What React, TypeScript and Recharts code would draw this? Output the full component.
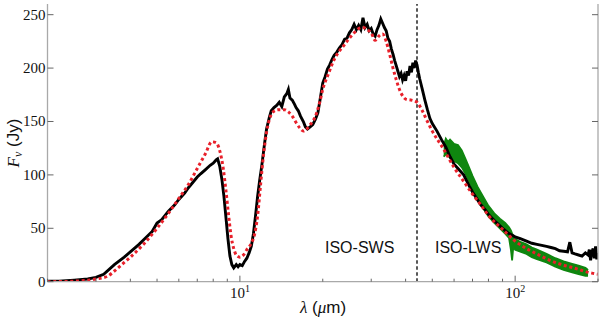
import React from 'react';
import { ComposedChart, Line, Area, XAxis, YAxis, ReferenceLine } from 'recharts';

// ISO-SWS + ISO-LWS observed spectrum (black): [wavelength µm, flux Jy]
const observed: [number, number][] = [
  [2.0, 0.5], [2.2, 0.5], [2.5, 1.5], [2.8, 2.5], [3.0, 4], [3.2, 7], [3.5, 16], [3.8, 23],
  [4.0, 28], [4.3, 35], [4.5, 40], [4.8, 47], [5.0, 55], [5.2, 58], [5.5, 66], [5.8, 72],
  [6.0, 77], [6.3, 83], [6.5, 88], [6.8, 94], [7.0, 98], [7.2, 101], [7.5, 105], [7.8, 109],
  [8.0, 111], [8.2, 114], [8.3, 115], [8.45, 108], [8.6, 96], [8.75, 80], [8.9, 60], [9.05, 40],
  [9.2, 24], [9.35, 16], [9.5, 13], [9.7, 16], [9.85, 14], [10.0, 16], [10.2, 15], [10.4, 19],
  [10.6, 22], [10.8, 27], [11.0, 33], [11.2, 45], [11.4, 62], [11.6, 80], [11.8, 95], [12.0, 108],
  [12.3, 130], [12.5, 143], [12.8, 154], [13.0, 160], [13.3, 163], [13.6, 165], [13.9, 168],
  [14.2, 164], [14.5, 173], [14.8, 176], [15.0, 180], [15.2, 172], [15.5, 170], [15.8, 166],
  [16.0, 163], [16.3, 160], [16.6, 155], [17.0, 150], [17.3, 145], [17.6, 143], [18.0, 145],
  [18.4, 147], [18.8, 152], [19.2, 158], [19.6, 172], [20.0, 186], [20.4, 192], [20.8, 199],
  [21.2, 203], [21.6, 208], [22.0, 212], [22.5, 215], [23.0, 219], [23.5, 222], [24.0, 227],
  [24.5, 228], [25.0, 233], [25.5, 236], [26.0, 241], [26.5, 236], [27.0, 240], [27.5, 236],
  [28.0, 247], [28.5, 238], [29.0, 241], [29.5, 235], [30.0, 237], [30.5, 232], [31.0, 230],
  [31.5, 236], [32.0, 240], [32.5, 246], [33.0, 242], [33.5, 238], [34.0, 235], [34.5, 228],
  [35.0, 225], [35.5, 218], [36.0, 213], [36.5, 207], [37.0, 202], [37.5, 197], [38.0, 192],
  [38.5, 195], [39.0, 189], [39.5, 193], [40.0, 188], [40.5, 197], [41.0, 193], [41.5, 202],
  [42.0, 196], [42.5, 205], [43.0, 200], [43.5, 207], [44.0, 203], [44.5, 196], [45.0, 190],
  [46.0, 180], [47.0, 170], [48.0, 161], [49.0, 153], [50.0, 148], [52.0, 141], [54.0, 133],
  [56.0, 126], [58.0, 117], [60.0, 110], [62.0, 106], [65.0, 100], [68.0, 90], [70.0, 84],
  [72.0, 79], [75.0, 72], [78.0, 67], [80.0, 63], [85.0, 56], [90.0, 50], [95.0, 45],
  [100, 42], [105, 40], [110, 38], [115, 36], [120, 35], [125, 34], [130, 33], [135, 32],
  [140, 31], [145, 29], [150, 28.5], [155, 28], [158, 37], [161, 27], [165, 26], [170, 25],
  [175, 24], [180, 27], [184, 25], [186, 30], [188, 20], [190, 28], [192, 31], [194, 22],
  [196, 33], [198, 21], [199, 27],
];

// Model SED (red dotted): [wavelength µm, flux Jy]
const model: [number, number][] = [
  [2.0, 0], [2.5, 0.5], [3.0, 2.5], [3.3, 5], [3.5, 10], [3.8, 18], [4.0, 23], [4.5, 36],
  [5.0, 50], [5.5, 64], [6.0, 78], [6.5, 91], [7.0, 106], [7.5, 120], [7.9, 131], [8.2, 130],
  [8.5, 120], [8.7, 106], [8.9, 85], [9.1, 62], [9.3, 42], [9.5, 31], [9.7, 25], [10.0, 23],
  [10.3, 25], [10.6, 30], [11.0, 36], [11.3, 44], [11.6, 62], [11.9, 92], [12.2, 120],
  [12.5, 140], [12.8, 152], [13.2, 159], [13.8, 161], [14.5, 161], [15.0, 159], [15.5, 155],
  [16.0, 149], [16.5, 144], [17.0, 141], [17.5, 143], [18.0, 147], [18.5, 151], [19.0, 158],
  [19.5, 168], [20.0, 180], [21.0, 195], [22.0, 208], [23.0, 216], [24.0, 222], [25.0, 228],
  [26.0, 233], [27.0, 237], [28.0, 238], [29.0, 236], [30.0, 233], [31.0, 226], [32.0, 230],
  [33.0, 232], [34.0, 225], [35.0, 213], [36.0, 200], [37.0, 189], [38.0, 180], [39.0, 174],
  [40.0, 171], [42.0, 170], [44.0, 168], [46.0, 160], [48.0, 150], [50.0, 141], [55.0, 124],
  [60.0, 107], [65.0, 94], [70.0, 82], [75.0, 72], [80.0, 62], [90.0, 49], [100, 38],
  [110, 31], [120, 26], [130, 21.5], [140, 18], [150, 15.5], [160, 13.5], [170, 11.5],
  [180, 9.5], [190, 8], [200, 7],
];

// ISO-LWS band (green): [wavelength µm, low flux, high flux]
const lws: [number, number, number][] = [
  [55, 117, 127], [56, 119, 134], [57, 118, 131], [58, 116, 133], [60, 113, 129], [62, 111, 128],
  [64, 107, 123], [66, 101, 115], [68, 94, 107], [70, 87, 99], [73, 78, 89], [76, 70, 81],
  [80, 61, 71], [84, 55, 64], [88, 50, 59], [92, 45, 55], [95, 41, 51], [96.5, 30, 48],
  [97.5, 20, 45], [98.5, 33, 43], [100, 30, 40], [105, 28, 37], [110, 26, 35], [115, 23, 32],
  [120, 21, 30], [130, 18, 26], [140, 14, 22], [150, 11, 19], [160, 9, 17], [170, 7, 15],
  [180, 5.5, 13], [184, 5.5, 11],
];

const xDomain: [number, number] = [2, 200];
const yDomain: [number, number] = [0, 260];
const xTicks = [2, 3, 4, 5, 6, 7, 8, 9, 10, 20, 30, 40, 50, 60, 70, 80, 90, 100, 200];
const xMajor = [10, 100];
const yTicks = [0, 50, 100, 150, 200, 250];
const boundary = 44;
const regionLabels = ['ISO-SWS', 'ISO-LWS'];

const observedRows = observed.map(([x, y]) => ({ x, y }));
const modelRows = model.map(([x, y]) => ({ x, y }));
const lwsRows = lws.map(([x, lo, hi]) => ({ x, band: [lo, hi] }));

const AXIS = '#a9a9a9';
const TICK = '#666';
const SERIF = '"Liberation Serif", "DejaVu Serif", serif';
const SANS = '"Liberation Sans", Arial, sans-serif';

const BottomTick = (props: any) => {
  const { x, y, payload } = props;
  const v = payload.value;
  const major = xMajor.includes(v);
  return (
    <g>
      <line x1={x} x2={x} y1={y} y2={y - (major ? 6 : 3)} stroke={TICK} strokeWidth={1} />
      {major && (
        <text x={x} y={y + 16} textAnchor="middle" fontFamily={SERIF} fontSize={15} fill="#111">
          <tspan>10</tspan>
          <tspan dy={-6} fontSize={10}>{Math.round(Math.log10(v))}</tspan>
        </text>
      )}
    </g>
  );
};

const TopTick = (props: any) => {
  const { x, y, payload } = props;
  const major = xMajor.includes(payload.value);
  return <line x1={x} x2={x} y1={y} y2={y + (major ? 6 : 3)} stroke={TICK} strokeWidth={1} />;
};

const LeftTick = (props: any) => {
  const { x, y, payload } = props;
  return (
    <g>
      <line x1={x} x2={x + 6} y1={y} y2={y} stroke={TICK} strokeWidth={1} />
      <text x={x - 2} y={y + 5} textAnchor="end" fontFamily={SERIF} fontSize={15} fill="#111">
        {payload.value}
      </text>
    </g>
  );
};

const RightTick = (props: any) => {
  const { x, y } = props;
  return <line x1={x} x2={x - 6} y1={y} y2={y} stroke={TICK} strokeWidth={1} />;
};

export default function App() {
  return (
    <div style={{ position: 'absolute', left: 0, top: 0, width: 600, height: 319, background: '#fff' }}>
      <ComposedChart width={600} height={319} margin={{ top: 4, right: 0, bottom: 0, left: 0 }}>
        <XAxis
          xAxisId="b"
          dataKey="x"
          type="number"
          scale="log"
          domain={xDomain}
          allowDataOverflow
          ticks={xTicks}
          interval={0}
          height={37.3}
          tickSize={0}
          tickMargin={0}
          tickLine={false}
          axisLine={{ stroke: AXIS, strokeWidth: 1.3 }}
          tick={<BottomTick />}
        />
        <XAxis
          xAxisId="t"
          orientation="top"
          type="number"
          scale="log"
          domain={xDomain}
          allowDataOverflow
          ticks={xTicks}
          interval={0}
          height={0}
          tickSize={0}
          tickMargin={0}
          tickLine={false}
          axisLine={{ stroke: AXIS, strokeWidth: 1.3 }}
          tick={<TopTick />}
        />
        <YAxis
          yAxisId="l"
          type="number"
          domain={yDomain}
          allowDataOverflow
          ticks={yTicks}
          interval={0}
          width={47.5}
          tickSize={0}
          tickMargin={0}
          tickLine={false}
          axisLine={{ stroke: AXIS, strokeWidth: 1.3 }}
          tick={<LeftTick />}
        />
        <YAxis
          yAxisId="r"
          orientation="right"
          type="number"
          domain={yDomain}
          allowDataOverflow
          ticks={yTicks}
          interval={0}
          width={2}
          tickSize={0}
          tickMargin={0}
          tickLine={false}
          axisLine={{ stroke: AXIS, strokeWidth: 1.3 }}
          tick={<RightTick />}
        />
        <ReferenceLine
          xAxisId="b"
          yAxisId="l"
          x={boundary}
          stroke="#222"
          strokeWidth={1.5}
          strokeDasharray="3.5 2.5"
        />
        <Line
          xAxisId="b"
          yAxisId="l"
          data={observedRows}
          dataKey="y"
          type="linear"
          stroke="#000"
          strokeWidth={2.9}
          dot={false}
          isAnimationActive={false}
        />
        <Area
          xAxisId="b"
          yAxisId="l"
          data={lwsRows}
          dataKey="band"
          type="linear"
          stroke="#0f860f"
          strokeWidth={1.8}
          fill="#0f860f"
          fillOpacity={1}
          dot={false}
          isAnimationActive={false}
        />
        <Line
          xAxisId="b"
          yAxisId="l"
          data={modelRows}
          dataKey="y"
          type="monotone"
          stroke="#e8202a"
          strokeWidth={3}
          strokeDasharray="3 2.7"
          dot={false}
          isAnimationActive={false}
        />
      </ComposedChart>
      <svg
        width={600}
        height={319}
        style={{ position: 'absolute', left: 0, top: 0, pointerEvents: 'none' }}
      >
        <text x={323} y={313} textAnchor="middle" fontSize={17} fill="#111">
          <tspan fontFamily={SERIF} fontStyle="italic">λ</tspan>
          <tspan fontFamily={SANS}> (</tspan>
          <tspan fontFamily={SERIF} fontStyle="italic">μ</tspan>
          <tspan fontFamily={SANS}>m)</tspan>
        </text>
        <text transform="translate(19,143) rotate(-90)" textAnchor="middle" fontSize={17} fill="#111">
          <tspan fontFamily={SERIF} fontStyle="italic">F</tspan>
          <tspan fontFamily={SERIF} fontStyle="italic" fontSize={12} dy={3}>ν</tspan>
          <tspan fontFamily={SANS} dy={-3}> (Jy)</tspan>
        </text>
        <text x={325} y={253.3} fontFamily={SANS} fontSize={16} fill="#111">{regionLabels[0]}</text>
        <text x={435} y={253.3} fontFamily={SANS} fontSize={16} fill="#111">{regionLabels[1]}</text>
      </svg>
    </div>
  );
}
